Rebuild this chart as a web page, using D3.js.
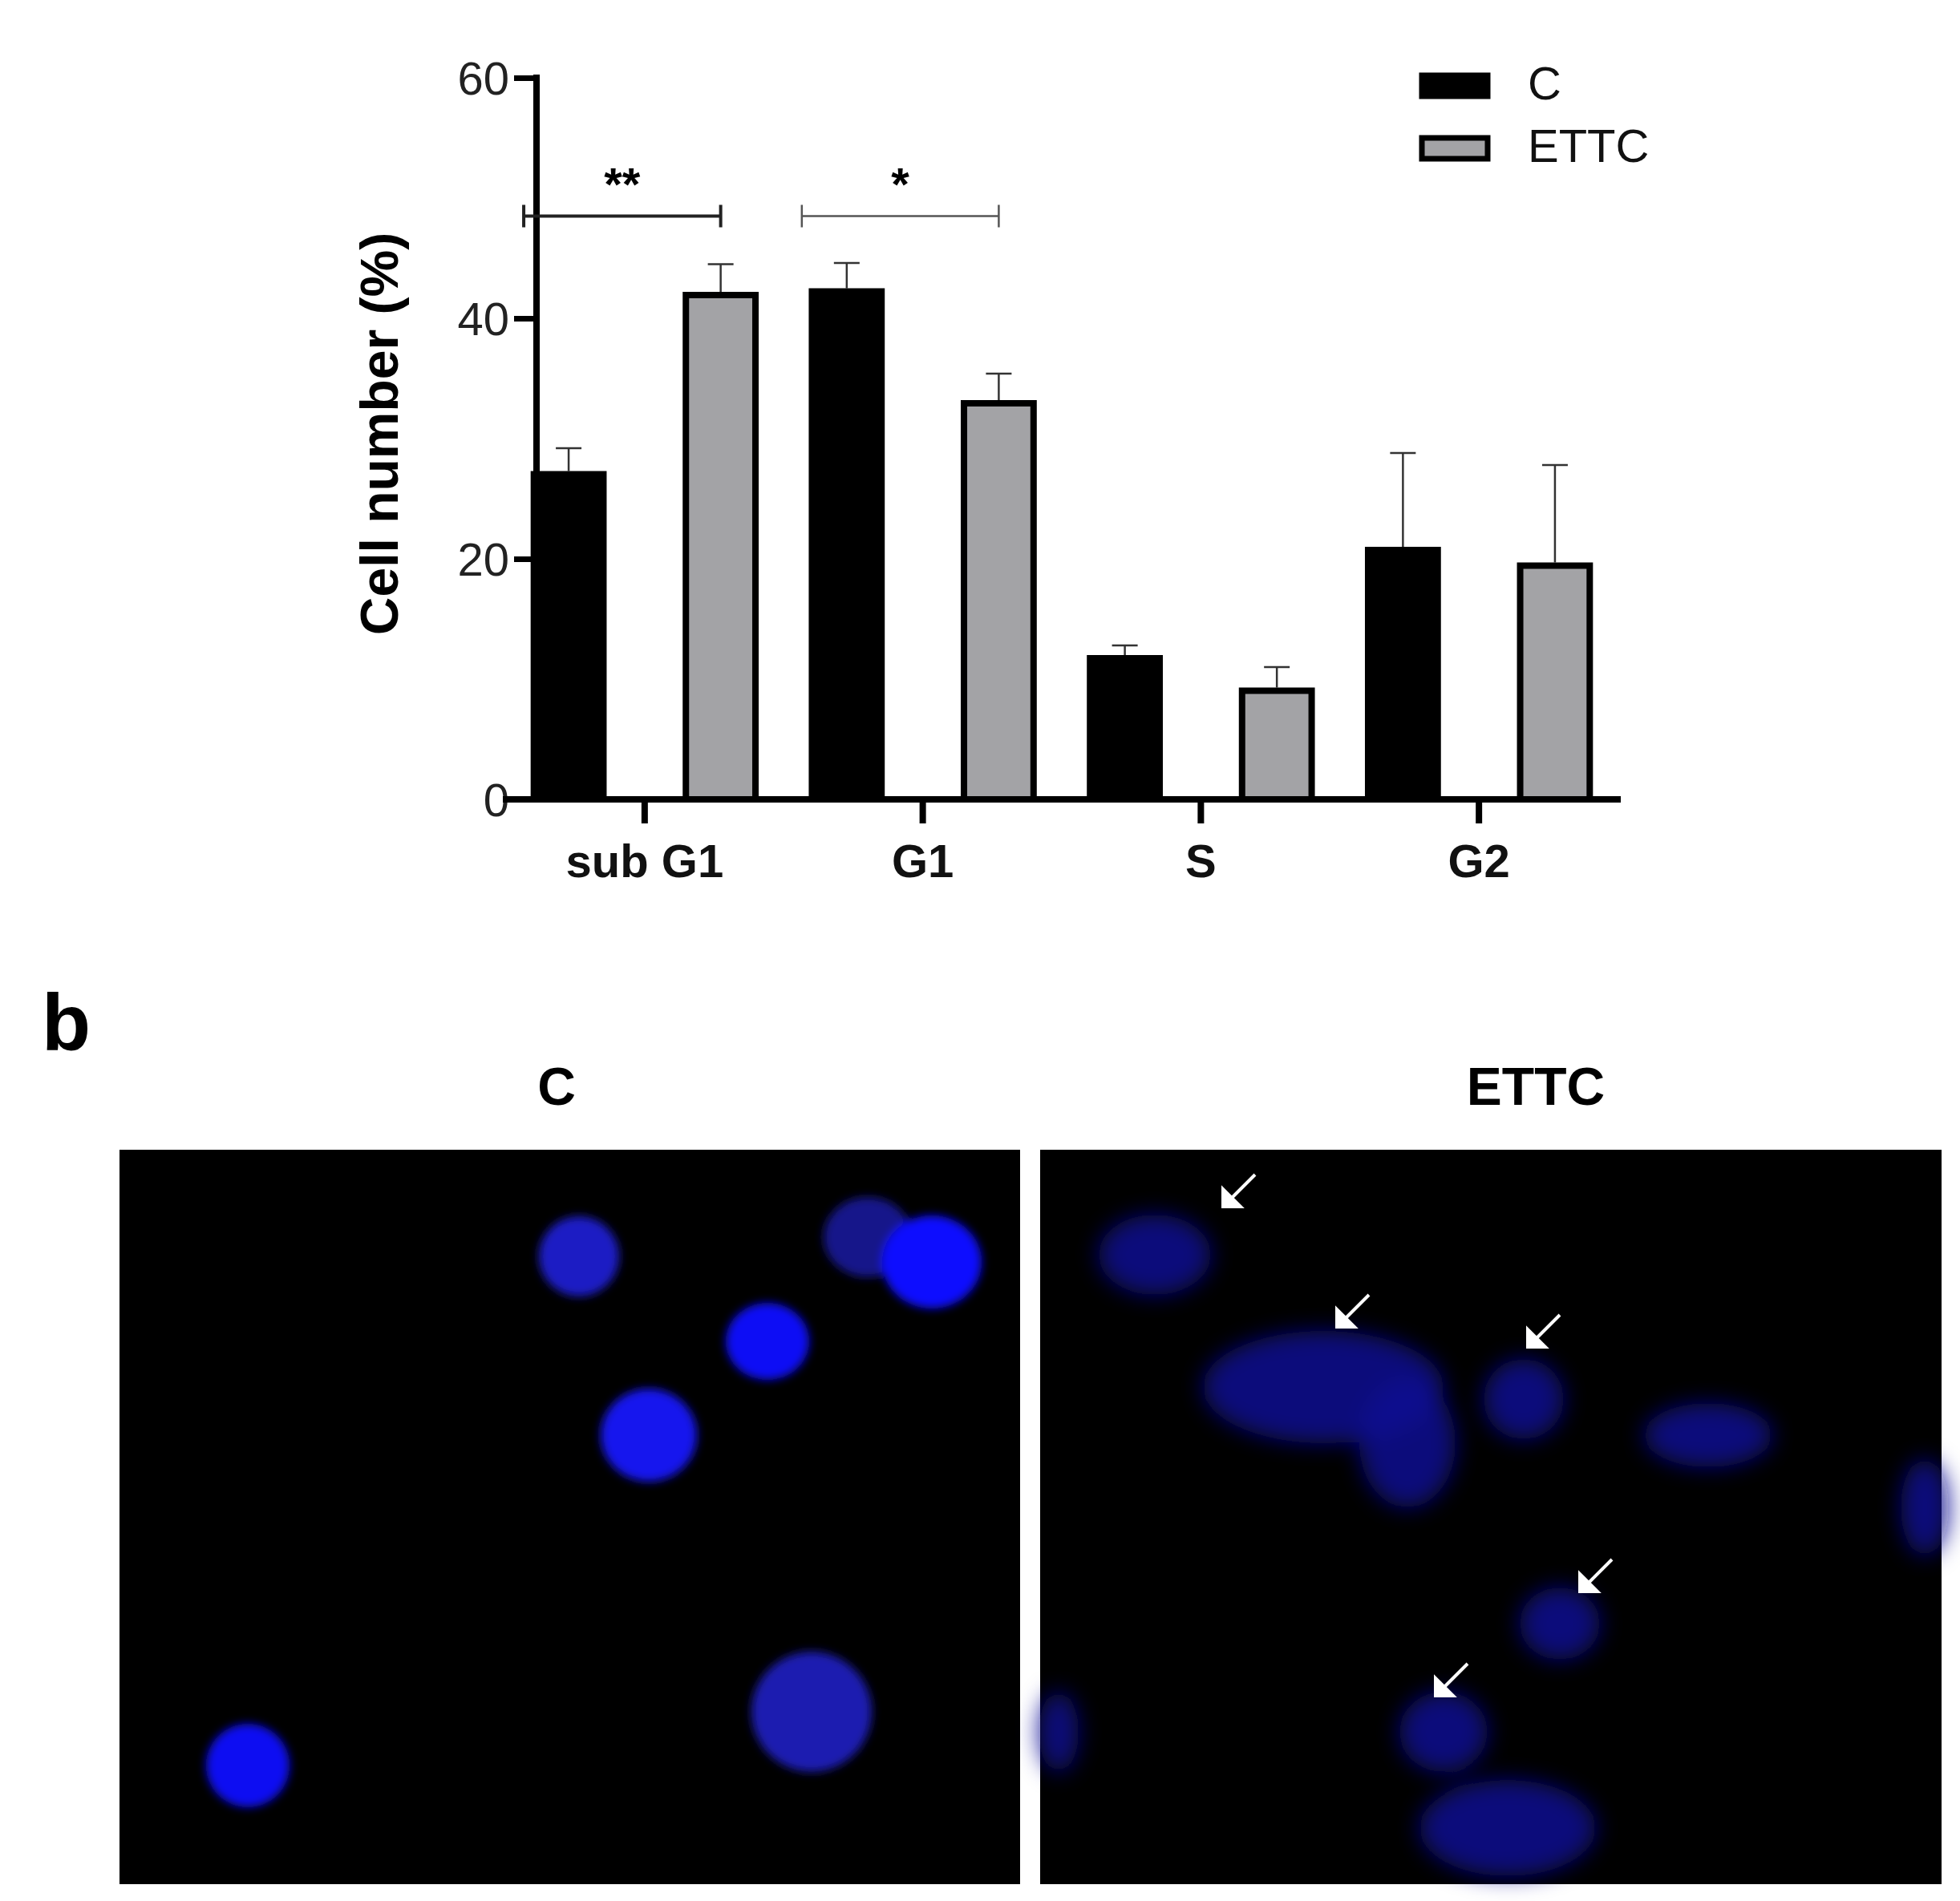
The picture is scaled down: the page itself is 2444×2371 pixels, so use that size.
<!DOCTYPE html><html><head><meta charset="utf-8"><script src="https://cdn.jsdelivr.net/npm/d3@7"></script>
<style>body{margin:0;background:#fff}</style></head><body><svg id="c" width="2444" height="2371"></svg>
<script>
const categories=["sub G1","G1","S","G2"];
const series=["C","ETTC"];
const cValues=[27.3,42.5,12.0,21.0];
const cErrors=[1.9,2.1,0.8,7.8];
const eValues=[42.2,33.2,9.3,19.7];
const eErrors=[2.3,2.2,1.7,8.1];
const yTicks=[0,20,40,60];
const colors={C:"#000",ETTC:"#a3a3a6"};
const svg=d3.select("#c");
const y=d3.scaleLinear().domain([0,60]).range([997,97]);
const x=d3.scaleBand().domain(categories).range([627,2021]).paddingInner(0.18).paddingOuter(0.1);
const xs=d3.scaleBand().domain(series).range([0,x.bandwidth()]).paddingInner(0.5).paddingOuter(0);
const F="Arial, 'Liberation Sans', sans-serif";
// bars
const data=[];categories.forEach((c,i)=>{data.push({c,s:"C",v:cValues[i],e:cErrors[i]});data.push({c,s:"ETTC",v:eValues[i],e:eErrors[i]});});
const g=svg.append("g");
g.selectAll(".err").data(data).join("g").each(function(d){
 const cx=x(d.c)+xs(d.s)+xs.bandwidth()/2, sel=d3.select(this);
 sel.append("line").attr("x1",cx).attr("x2",cx).attr("y1",y(d.v)).attr("y2",y(d.v+d.e)).attr("stroke","#333").attr("stroke-width",2.5);
 sel.append("line").attr("x1",cx-16).attr("x2",cx+16).attr("y1",y(d.v+d.e)).attr("y2",y(d.v+d.e)).attr("stroke","#333").attr("stroke-width",2.5);
});
g.selectAll("rect").data(data).join("rect").attr("x",d=>x(d.c)+xs(d.s)+4).attr("width",xs.bandwidth()-8)
 .attr("y",d=>y(d.v)+4).attr("height",d=>y(0)-y(d.v)-4).attr("fill",d=>colors[d.s]).attr("stroke","#000").attr("stroke-width",8);
// axes
const ya=svg.append("g").attr("transform","translate(669,0)").call(d3.axisLeft(y).tickValues(yTicks).tickSize(28).tickPadding(6));
ya.select(".domain").attr("stroke-width",8).attr("d","M0,93V997");
ya.selectAll(".tick line").attr("stroke-width",7);
ya.selectAll("text").attr("font-family",F).attr("font-size",58).attr("font-weight",300).attr("fill","#222").attr("dy","0.35em");
const xa=svg.append("g").attr("transform","translate(0,997)").call(d3.axisBottom(x).tickSize(30).tickPadding(26));
xa.select(".domain").attr("stroke-width",8).attr("d","M627,0H2021");
xa.selectAll(".tick line").attr("stroke-width",8);
xa.selectAll("text").attr("font-family",F).attr("font-size",58).attr("font-weight","bold").attr("fill","#111");
svg.append("text").attr("transform","translate(496,541) rotate(-90)").attr("text-anchor","middle").attr("font-family",F).attr("font-size",66).attr("font-weight","bold").text("Cell number (%)");
// legend
series.forEach((s,i)=>{const yy=91+i*78;
 svg.append("rect").attr("x",1773).attr("y",yy+3).attr("width",82).attr("height",26).attr("fill",colors[s]).attr("stroke","#000").attr("stroke-width",7);
 svg.append("text").attr("x",1905).attr("y",yy+33).attr("font-family",F).attr("font-size",58).attr("fill","#111").text(s);});
// significance
function sig(c,txt,w,col){const x1=x(c)+xs("C")+xs.bandwidth()/2-56,x2=x(c)+xs("ETTC")+xs.bandwidth()/2,yy=y(48.5);
 svg.append("path").attr("d",`M${x1},${yy-14}V${yy+14}M${x1},${yy}H${x2}M${x2},${yy-14}V${yy+14}`).attr("stroke",col).attr("stroke-width",w).attr("fill","none");
 svg.append("text").attr("x",(x1+x2)/2).attr("y",yy-20).attr("text-anchor","middle").attr("font-family",F).attr("font-size",58).attr("font-weight","bold").text(txt);}
sig("sub G1","**",4,"#222");sig("G1","*",2.5,"#555");
// panel b
svg.append("text").attr("x",52).attr("y",1310).attr("font-family",F).attr("font-size",100).attr("font-weight","bold").text("b");
svg.append("text").attr("x",694).attr("y",1378).attr("text-anchor","middle").attr("font-family",F).attr("font-size",66).attr("font-weight","bold").text("C");
svg.append("text").attr("x",1915).attr("y",1378).attr("text-anchor","middle").attr("font-family",F).attr("font-size",66).attr("font-weight","bold").text("ETTC");
const defs=svg.append("defs");
defs.append("filter").attr("id","bl").append("feGaussianBlur").attr("stdDeviation",6);
defs.append("filter").attr("id","bl2").append("feGaussianBlur").attr("stdDeviation",14);
const panels=[{x:149,w:1123},{x:1297,w:1124}];
panels.forEach(p=>svg.append("rect").attr("x",p.x).attr("y",1434).attr("width",p.w).attr("height",916).attr("fill","#000"));
const leftCells=[[722,1567,50,50,"#1d1dc4"],[1082,1543,55,50,"#15158a"],[1162,1574,62,58,"#1010ff"],[957,1673,52,48,"#1111f5"],[809,1790,60,58,"#1414ee"],[1012,2135,75,75,"#1a1ab0"],[309,2202,52,52,"#1010f2"]];
svg.append("g").attr("filter","url(#bl)").selectAll("ellipse").data(leftCells).join("ellipse").attr("cx",d=>d[0]).attr("cy",d=>d[1]).attr("rx",d=>d[2]).attr("ry",d=>d[3]).attr("fill",d=>d[4]);
const rightCells=[[1440,1565,70,50],[1650,1730,150,70],[1755,1800,60,80],[1900,1745,50,50],[2130,1790,80,40],[1945,2025,50,45],[1800,2160,55,50],[1880,2280,110,60],[2400,1880,30,60],[1320,2160,25,50]];
svg.append("g").attr("filter","url(#bl2)").selectAll("ellipse").data(rightCells).join("ellipse").attr("cx",d=>d[0]).attr("cy",d=>d[1]).attr("rx",d=>d[2]).attr("ry",d=>d[3]).attr("fill","#0d0d90").attr("opacity",0.85);
const arrows=[[1525,1505],[1667,1655],[1905,1680],[1970,1985],[1790,2115]];
arrows.forEach(a=>{svg.append("path").attr("d",`M${a[0]+40},${a[1]-40}L${a[0]},${a[1]}M${a[0]},${a[1]}l0,-22l22,22z`).attr("stroke","#fff").attr("stroke-width",4).attr("fill","#fff");});
</script></body></html>
